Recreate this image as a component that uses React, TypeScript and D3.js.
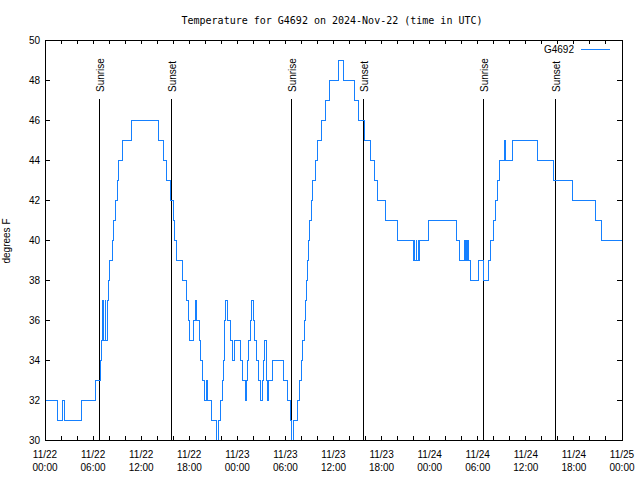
import React from "react";
import * as d3 from "d3";

// Change points of the recorded temperature (hours since 2024-11-22 00:00 UTC)
const sampleHours = [
  0, 1.6, 2.2, 2.45, 4.5, 6.25, 6.95, 7.05, 7.2, 7.35, 7.5, 7.6, 7.75, 7.9, 8.1, 8.4, 8.6, 8.8, 9.0, 9.2,
  9.7, 10.8, 14.2, 14.8, 15.2, 15.7, 16.0, 16.2, 16.4, 17.2, 17.7, 17.85, 18.0, 18.5, 18.75, 18.9, 19.25,
  19.45, 19.7, 19.95, 20.1, 20.25, 20.8, 21.35, 21.7, 21.95, 22.1, 22.25, 22.35, 22.45, 22.55, 22.72, 23.2,
  23.45, 23.7, 24.4, 24.7, 25.0, 25.15, 25.3, 25.45, 25.6, 25.75, 26.0, 26.2, 26.45, 26.65, 26.85, 27.15,
  27.3, 27.45, 27.6, 27.75, 27.9, 28.45, 29.7, 30.25, 30.65, 30.72, 31.05, 31.5, 31.75, 31.95, 32.15, 32.35,
  32.5, 32.6, 32.7, 32.85, 33.0, 33.2, 33.4, 33.8, 34.05, 34.5, 34.95, 35.5, 36.6, 37.3, 38.65, 39.1, 39.9,
  40.6, 41.1, 41.45, 42.55, 44.0, 45.95, 46.05, 46.15, 46.3, 46.4, 46.55, 46.65, 46.75, 47.8, 51.35, 51.7,
  52.3, 52.4, 52.5, 52.55, 52.65, 52.7, 52.8, 52.9, 53.1, 54.05, 54.75, 55.3, 55.65, 55.95, 56.2, 56.45,
  56.75, 57.3, 57.45, 58.3, 61.5, 63.45, 65.8, 68.7, 69.5, 72,
];
const temperatures = [
  32, 31, 32, 31, 32, 33, 34, 35, 37, 35, 37, 35, 37, 38, 39, 40, 41, 42, 43, 44,
  45, 46, 45, 44, 43, 42, 41, 40, 39, 38, 37, 36, 35, 36, 37, 36, 35,
  34, 33, 32, 33, 32, 31, 30, 31, 32, 33, 34, 35, 36, 37, 36, 35,
  34, 35, 34, 33, 32, 33, 34, 35, 36, 37, 36, 35, 34, 33, 32, 33,
  34, 35, 33, 32, 33, 34, 33, 32, 31, 30, 31, 32, 33, 34, 35, 36,
  37, 38, 39, 40, 41, 42, 43, 44, 45, 46, 47, 48, 49, 48, 47, 46, 45,
  44, 43, 42, 41, 40, 39, 40, 39, 40, 39, 40, 39, 40, 41, 40, 39,
  40, 39, 40, 39, 40, 39, 40, 39, 38, 39, 38, 39, 40, 41, 42, 43,
  44, 45, 44, 45, 44, 43, 42, 41, 40, 40,
];
const sunriseHours = [6.77, 30.7, 54.69];
const sunsetHours = [15.76, 39.72, 63.58];
const yTicks = [30, 32, 34, 36, 38, 40, 42, 44, 46, 48, 50];
const seriesName = "G4692";
const titleText = "Temperature for G4692 on 2024-Nov-22 (time in UTC)";
const yLabel = "degrees F";

const START = Date.UTC(2024, 10, 22);
const END = Date.UTC(2024, 10, 25);
const H = 3600000;

export default function App() {
  const W = 640, HH = 480;
  const left = 45, right = 622, top = 40, bottom = 440;
  const x = d3.scaleUtc().domain([new Date(START), new Date(END)]).range([left, right]);
  const y = d3.scaleLinear().domain([30, 50]).range([bottom, top]);
  const data = sampleHours.map((h, i) => ({ t: new Date(START + h * H), v: temperatures[i] }));
  const line = d3
    .line<{ t: Date; v: number }>()
    .x((d) => x(d.t))
    .y((d) => y(d.v))
    .curve(d3.curveStepAfter);
  const majorTicks = x.ticks(d3.utcHour.every(6)!);
  const minorTicks = x.ticks(d3.utcHour.every(2)!);
  const fmtDay = d3.utcFormat("%m/%d");
  const fmtTime = d3.utcFormat("%H:%M");
  const font = "'DejaVu Sans Mono', monospace";
  const sans = "'Liberation Sans', Arial, sans-serif";
  const lineColor = "#1580ff";

  const markers = [
    ...sunriseHours.map((h) => ({ h, label: "Sunrise" })),
    ...sunsetHours.map((h) => ({ h, label: "Sunset" })),
  ];

  return (
    <svg width={W} height={HH} style={{ position: "absolute", left: 0, top: 0, background: "#fff" }}>
      <rect x={0} y={0} width={W} height={HH} fill="#fff" />
      <text x={332} y={24} textAnchor="middle" fontFamily={font} fontSize={10} fill="#000">
        {titleText}
      </text>
      <text
        transform={`translate(10,241) rotate(-90)`}
        textAnchor="middle"
        fontFamily={sans}
        fontSize={10}
        fill="#000"
      >
        {yLabel}
      </text>
      {/* y ticks */}
      {yTicks.map((t) => (
        <g key={"y" + t}>
          <line x1={left} x2={left + 5} y1={y(t)} y2={y(t)} stroke="#000" shapeRendering="crispEdges" />
          <line x1={right - 5} x2={right} y1={y(t)} y2={y(t)} stroke="#000" shapeRendering="crispEdges" />
          <text x={40} y={y(t) + 4} textAnchor="end" fontFamily={sans} fontSize={10} fill="#000">
            {t}
          </text>
        </g>
      ))}
      {/* x ticks */}
      {minorTicks.map((t, i) => (
        <g key={"m" + i}>
          <line x1={x(t)} x2={x(t)} y1={bottom} y2={bottom - 4} stroke="#000" shapeRendering="crispEdges" />
          <line x1={x(t)} x2={x(t)} y1={top} y2={top + 4} stroke="#000" shapeRendering="crispEdges" />
        </g>
      ))}
      {majorTicks.map((t, i) => (
        <g key={"M" + i}>
          <text x={x(t)} y={458} textAnchor="middle" fontFamily={sans} fontSize={10} fill="#000">
            {fmtDay(t)}
          </text>
          <text x={x(t)} y={471} textAnchor="middle" fontFamily={sans} fontSize={10} fill="#000">
            {fmtTime(t)}
          </text>
        </g>
      ))}
      {/* sunrise / sunset markers */}
      {markers.map((m, i) => {
        const px = Math.round(x(new Date(START + m.h * H))) + 0.5;
        return (
          <g key={"s" + i}>
            <line x1={px} x2={px} y1={99} y2={bottom} stroke="#000" strokeWidth={1} />
            <text
              transform={`translate(${px + 4},92) rotate(-90)`}
              textAnchor="start"
              fontFamily={sans}
              fontSize={10}
              fill="#000"
            >
              {m.label}
            </text>
          </g>
        );
      })}
      <path d={line(data) || ""} fill="none" stroke={lineColor} strokeWidth={1} shapeRendering="crispEdges" />
      {/* legend */}
      <text x={574} y={53} textAnchor="end" fontFamily={sans} fontSize={10} fill="#000">
        {seriesName}
      </text>
      <line x1={581} x2={610} y1={49.5} y2={49.5} stroke={lineColor} strokeWidth={1} />
      <rect x={left + 0.5} y={top + 0.5} width={right - left} height={bottom - top} fill="none" stroke="#000" shapeRendering="crispEdges" />
    </svg>
  );
}
